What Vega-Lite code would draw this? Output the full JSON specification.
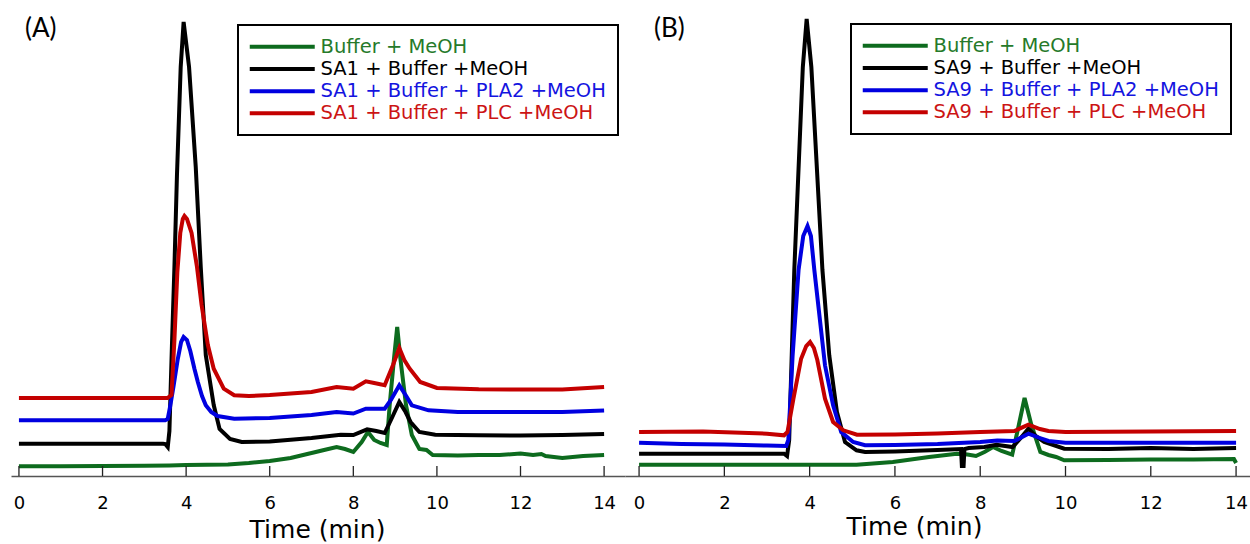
{
 "$schema": "https://vega.github.io/schema/vega-lite/v6.json",
 "padding": {"left": 10, "top": 10, "right": 0, "bottom": 0},
 "autosize": {"type": "pad"},
 "background": "white",
 "spacing": 0,
 "bounds": "flush",
 "config": {"view": {"stroke": null}, "legend": {"strokeWidth": 2}},
 "resolve": {"scale": {"color": "independent", "x": "independent"}, "legend": {"color": "independent"}},
 "datasets": {
  "ticks": [{"t":0},{"t":2},{"t":4},{"t":6},{"t":8},{"t":10},{"t":12},{"t":14}],
  "A": [
   {"s":"Buffer + MeOH","t":0,"v":9.7},{"s":"Buffer + MeOH","t":1,"v":9.8},{"s":"Buffer + MeOH","t":2,"v":10},{"s":"Buffer + MeOH","t":3,"v":10.2},{"s":"Buffer + MeOH","t":3.6,"v":10.5},{"s":"Buffer + MeOH","t":4,"v":11},{"s":"Buffer + MeOH","t":5,"v":11.5},{"s":"Buffer + MeOH","t":5.5,"v":13},{"s":"Buffer + MeOH","t":6,"v":15},{"s":"Buffer + MeOH","t":6.5,"v":18},{"s":"Buffer + MeOH","t":7,"v":23},{"s":"Buffer + MeOH","t":7.3,"v":26},{"s":"Buffer + MeOH","t":7.6,"v":29},{"s":"Buffer + MeOH","t":7.8,"v":27},{"s":"Buffer + MeOH","t":8.0,"v":24},{"s":"Buffer + MeOH","t":8.2,"v":34},{"s":"Buffer + MeOH","t":8.35,"v":44},{"s":"Buffer + MeOH","t":8.5,"v":36},{"s":"Buffer + MeOH","t":8.65,"v":33},{"s":"Buffer + MeOH","t":8.8,"v":31},{"s":"Buffer + MeOH","t":8.87,"v":71},{"s":"Buffer + MeOH","t":8.97,"v":116},{"s":"Buffer + MeOH","t":9.05,"v":149},{"s":"Buffer + MeOH","t":9.13,"v":116},{"s":"Buffer + MeOH","t":9.26,"v":71},{"s":"Buffer + MeOH","t":9.4,"v":41},{"s":"Buffer + MeOH","t":9.58,"v":27},{"s":"Buffer + MeOH","t":9.75,"v":26},{"s":"Buffer + MeOH","t":9.9,"v":21},{"s":"Buffer + MeOH","t":10.5,"v":20.5},{"s":"Buffer + MeOH","t":11,"v":21},{"s":"Buffer + MeOH","t":11.5,"v":21},{"s":"Buffer + MeOH","t":12,"v":22.5},{"s":"Buffer + MeOH","t":12.3,"v":21},{"s":"Buffer + MeOH","t":12.5,"v":22},{"s":"Buffer + MeOH","t":12.6,"v":20},{"s":"Buffer + MeOH","t":13,"v":18},{"s":"Buffer + MeOH","t":13.5,"v":20},{"s":"Buffer + MeOH","t":14,"v":21},
   {"s":"SA1 + Buffer +MeOH","t":0,"v":32.3},{"s":"SA1 + Buffer +MeOH","t":1,"v":32.3},{"s":"SA1 + Buffer +MeOH","t":2,"v":32.3},{"s":"SA1 + Buffer +MeOH","t":3,"v":32.3},{"s":"SA1 + Buffer +MeOH","t":3.45,"v":32.3},{"s":"SA1 + Buffer +MeOH","t":3.5,"v":32},{"s":"SA1 + Buffer +MeOH","t":3.56,"v":29},{"s":"SA1 + Buffer +MeOH","t":3.6,"v":45},{"s":"SA1 + Buffer +MeOH","t":3.66,"v":130},{"s":"SA1 + Buffer +MeOH","t":3.72,"v":209},{"s":"SA1 + Buffer +MeOH","t":3.78,"v":300},{"s":"SA1 + Buffer +MeOH","t":3.87,"v":409},{"s":"SA1 + Buffer +MeOH","t":3.94,"v":454},{"s":"SA1 + Buffer +MeOH","t":4.07,"v":409},{"s":"SA1 + Buffer +MeOH","t":4.23,"v":309},{"s":"SA1 + Buffer +MeOH","t":4.35,"v":209},{"s":"SA1 + Buffer +MeOH","t":4.47,"v":121},{"s":"SA1 + Buffer +MeOH","t":4.66,"v":71},{"s":"SA1 + Buffer +MeOH","t":4.8,"v":47},{"s":"SA1 + Buffer +MeOH","t":5.05,"v":37},{"s":"SA1 + Buffer +MeOH","t":5.33,"v":34},{"s":"SA1 + Buffer +MeOH","t":6,"v":34.5},{"s":"SA1 + Buffer +MeOH","t":7,"v":38},{"s":"SA1 + Buffer +MeOH","t":7.7,"v":41.3},{"s":"SA1 + Buffer +MeOH","t":8.0,"v":41},{"s":"SA1 + Buffer +MeOH","t":8.33,"v":46.7},{"s":"SA1 + Buffer +MeOH","t":8.55,"v":45},{"s":"SA1 + Buffer +MeOH","t":8.75,"v":43},{"s":"SA1 + Buffer +MeOH","t":8.9,"v":56},{"s":"SA1 + Buffer +MeOH","t":9.1,"v":74},{"s":"SA1 + Buffer +MeOH","t":9.25,"v":64},{"s":"SA1 + Buffer +MeOH","t":9.37,"v":54},{"s":"SA1 + Buffer +MeOH","t":9.58,"v":44},{"s":"SA1 + Buffer +MeOH","t":9.96,"v":41.3},{"s":"SA1 + Buffer +MeOH","t":11,"v":40.7},{"s":"SA1 + Buffer +MeOH","t":12,"v":40.5},{"s":"SA1 + Buffer +MeOH","t":13,"v":41},{"s":"SA1 + Buffer +MeOH","t":14,"v":42},
   {"s":"SA1 + Buffer + PLA2 +MeOH","t":0,"v":55.7},{"s":"SA1 + Buffer + PLA2 +MeOH","t":1,"v":55.7},{"s":"SA1 + Buffer + PLA2 +MeOH","t":2,"v":55.7},{"s":"SA1 + Buffer + PLA2 +MeOH","t":3,"v":55.7},{"s":"SA1 + Buffer + PLA2 +MeOH","t":3.5,"v":55.7},{"s":"SA1 + Buffer + PLA2 +MeOH","t":3.56,"v":57},{"s":"SA1 + Buffer + PLA2 +MeOH","t":3.62,"v":70},{"s":"SA1 + Buffer + PLA2 +MeOH","t":3.7,"v":90},{"s":"SA1 + Buffer + PLA2 +MeOH","t":3.8,"v":117},{"s":"SA1 + Buffer + PLA2 +MeOH","t":3.88,"v":134},{"s":"SA1 + Buffer + PLA2 +MeOH","t":3.94,"v":139},{"s":"SA1 + Buffer + PLA2 +MeOH","t":4.02,"v":136},{"s":"SA1 + Buffer + PLA2 +MeOH","t":4.1,"v":125},{"s":"SA1 + Buffer + PLA2 +MeOH","t":4.2,"v":107},{"s":"SA1 + Buffer + PLA2 +MeOH","t":4.28,"v":94},{"s":"SA1 + Buffer + PLA2 +MeOH","t":4.38,"v":80},{"s":"SA1 + Buffer + PLA2 +MeOH","t":4.47,"v":70.7},{"s":"SA1 + Buffer + PLA2 +MeOH","t":4.6,"v":64},{"s":"SA1 + Buffer + PLA2 +MeOH","t":4.75,"v":60},{"s":"SA1 + Buffer + PLA2 +MeOH","t":5.15,"v":57.3},{"s":"SA1 + Buffer + PLA2 +MeOH","t":6,"v":58},{"s":"SA1 + Buffer + PLA2 +MeOH","t":7,"v":61},{"s":"SA1 + Buffer + PLA2 +MeOH","t":7.6,"v":64},{"s":"SA1 + Buffer + PLA2 +MeOH","t":8.0,"v":62.5},{"s":"SA1 + Buffer + PLA2 +MeOH","t":8.3,"v":67.3},{"s":"SA1 + Buffer + PLA2 +MeOH","t":8.75,"v":67.3},{"s":"SA1 + Buffer + PLA2 +MeOH","t":8.9,"v":76},{"s":"SA1 + Buffer + PLA2 +MeOH","t":9.1,"v":90.7},{"s":"SA1 + Buffer + PLA2 +MeOH","t":9.25,"v":81},{"s":"SA1 + Buffer + PLA2 +MeOH","t":9.4,"v":70.7},{"s":"SA1 + Buffer + PLA2 +MeOH","t":9.8,"v":65.7},{"s":"SA1 + Buffer + PLA2 +MeOH","t":10.5,"v":64},{"s":"SA1 + Buffer + PLA2 +MeOH","t":12,"v":64},{"s":"SA1 + Buffer + PLA2 +MeOH","t":13,"v":64},{"s":"SA1 + Buffer + PLA2 +MeOH","t":14,"v":65.5},
   {"s":"SA1 + Buffer + PLC +MeOH","t":0,"v":78},{"s":"SA1 + Buffer + PLC +MeOH","t":1,"v":78},{"s":"SA1 + Buffer + PLC +MeOH","t":2,"v":78},{"s":"SA1 + Buffer + PLC +MeOH","t":3,"v":78},{"s":"SA1 + Buffer + PLC +MeOH","t":3.55,"v":78},{"s":"SA1 + Buffer + PLC +MeOH","t":3.65,"v":81},{"s":"SA1 + Buffer + PLC +MeOH","t":3.72,"v":136},{"s":"SA1 + Buffer + PLC +MeOH","t":3.79,"v":204},{"s":"SA1 + Buffer + PLC +MeOH","t":3.86,"v":243},{"s":"SA1 + Buffer + PLC +MeOH","t":3.92,"v":257},{"s":"SA1 + Buffer + PLC +MeOH","t":3.96,"v":260},{"s":"SA1 + Buffer + PLC +MeOH","t":4.02,"v":257},{"s":"SA1 + Buffer + PLC +MeOH","t":4.13,"v":243},{"s":"SA1 + Buffer + PLC +MeOH","t":4.26,"v":209},{"s":"SA1 + Buffer + PLC +MeOH","t":4.37,"v":171},{"s":"SA1 + Buffer + PLC +MeOH","t":4.52,"v":131},{"s":"SA1 + Buffer + PLC +MeOH","t":4.66,"v":107.3},{"s":"SA1 + Buffer + PLC +MeOH","t":4.9,"v":87.3},{"s":"SA1 + Buffer + PLC +MeOH","t":5.15,"v":80.7},{"s":"SA1 + Buffer + PLC +MeOH","t":5.5,"v":80},{"s":"SA1 + Buffer + PLC +MeOH","t":6,"v":81},{"s":"SA1 + Buffer + PLC +MeOH","t":7,"v":84},{"s":"SA1 + Buffer + PLC +MeOH","t":7.6,"v":89},{"s":"SA1 + Buffer + PLC +MeOH","t":8.0,"v":87.3},{"s":"SA1 + Buffer + PLC +MeOH","t":8.3,"v":94.7},{"s":"SA1 + Buffer + PLC +MeOH","t":8.5,"v":93},{"s":"SA1 + Buffer + PLC +MeOH","t":8.75,"v":90.7},{"s":"SA1 + Buffer + PLC +MeOH","t":8.95,"v":111},{"s":"SA1 + Buffer + PLC +MeOH","t":9.1,"v":128},{"s":"SA1 + Buffer + PLC +MeOH","t":9.22,"v":116},{"s":"SA1 + Buffer + PLC +MeOH","t":9.35,"v":107.3},{"s":"SA1 + Buffer + PLC +MeOH","t":9.6,"v":94},{"s":"SA1 + Buffer + PLC +MeOH","t":10,"v":88},{"s":"SA1 + Buffer + PLC +MeOH","t":11,"v":86.7},{"s":"SA1 + Buffer + PLC +MeOH","t":12,"v":86.5},{"s":"SA1 + Buffer + PLC +MeOH","t":13,"v":86.5},{"s":"SA1 + Buffer + PLC +MeOH","t":14,"v":89}
  ],
  "B": [
   {"s":"Buffer + MeOH","t":0,"v":11.3},{"s":"Buffer + MeOH","t":2,"v":11.3},{"s":"Buffer + MeOH","t":4,"v":11.3},{"s":"Buffer + MeOH","t":5.1,"v":11.3},{"s":"Buffer + MeOH","t":5.95,"v":14},{"s":"Buffer + MeOH","t":6.8,"v":19},{"s":"Buffer + MeOH","t":7.45,"v":22.3},{"s":"Buffer + MeOH","t":7.7,"v":21.5},{"s":"Buffer + MeOH","t":7.9,"v":20},{"s":"Buffer + MeOH","t":8.1,"v":24},{"s":"Buffer + MeOH","t":8.3,"v":29},{"s":"Buffer + MeOH","t":8.5,"v":25},{"s":"Buffer + MeOH","t":8.75,"v":21.3},{"s":"Buffer + MeOH","t":8.88,"v":46},{"s":"Buffer + MeOH","t":9.04,"v":78},{"s":"Buffer + MeOH","t":9.2,"v":51},{"s":"Buffer + MeOH","t":9.41,"v":24},{"s":"Buffer + MeOH","t":9.6,"v":21},{"s":"Buffer + MeOH","t":9.78,"v":19},{"s":"Buffer + MeOH","t":9.97,"v":15.7},{"s":"Buffer + MeOH","t":11,"v":16},{"s":"Buffer + MeOH","t":12,"v":16.5},{"s":"Buffer + MeOH","t":13,"v":16.5},{"s":"Buffer + MeOH","t":13.95,"v":17},{"s":"Buffer + MeOH","t":14,"v":13},
   {"s":"SA9 + Buffer +MeOH","t":0,"v":22.3},{"s":"SA9 + Buffer +MeOH","t":1,"v":22.3},{"s":"SA9 + Buffer +MeOH","t":2,"v":22.3},{"s":"SA9 + Buffer +MeOH","t":3,"v":22.3},{"s":"SA9 + Buffer +MeOH","t":3.4,"v":22.3},{"s":"SA9 + Buffer +MeOH","t":3.47,"v":20},{"s":"SA9 + Buffer +MeOH","t":3.52,"v":36},{"s":"SA9 + Buffer +MeOH","t":3.64,"v":206},{"s":"SA9 + Buffer +MeOH","t":3.84,"v":409},{"s":"SA9 + Buffer +MeOH","t":3.93,"v":457},{"s":"SA9 + Buffer +MeOH","t":4.04,"v":409},{"s":"SA9 + Buffer +MeOH","t":4.3,"v":206},{"s":"SA9 + Buffer +MeOH","t":4.46,"v":120.7},{"s":"SA9 + Buffer +MeOH","t":4.64,"v":64},{"s":"SA9 + Buffer +MeOH","t":4.83,"v":34},{"s":"SA9 + Buffer +MeOH","t":5.1,"v":25.7},{"s":"SA9 + Buffer +MeOH","t":5.3,"v":24},{"s":"SA9 + Buffer +MeOH","t":6,"v":24.5},{"s":"SA9 + Buffer +MeOH","t":7,"v":26},{"s":"SA9 + Buffer +MeOH","t":7.55,"v":27},{"s":"SA9 + Buffer +MeOH","t":7.57,"v":10},{"s":"SA9 + Buffer +MeOH","t":7.61,"v":10},{"s":"SA9 + Buffer +MeOH","t":7.63,"v":27},{"s":"SA9 + Buffer +MeOH","t":7.73,"v":28},{"s":"SA9 + Buffer +MeOH","t":8.1,"v":29},{"s":"SA9 + Buffer +MeOH","t":8.38,"v":31.3},{"s":"SA9 + Buffer +MeOH","t":8.76,"v":29},{"s":"SA9 + Buffer +MeOH","t":8.95,"v":38},{"s":"SA9 + Buffer +MeOH","t":9.13,"v":47.3},{"s":"SA9 + Buffer +MeOH","t":9.3,"v":40},{"s":"SA9 + Buffer +MeOH","t":9.5,"v":34},{"s":"SA9 + Buffer +MeOH","t":9.97,"v":27.3},{"s":"SA9 + Buffer +MeOH","t":11,"v":27},{"s":"SA9 + Buffer +MeOH","t":12,"v":28},{"s":"SA9 + Buffer +MeOH","t":13,"v":27},{"s":"SA9 + Buffer +MeOH","t":14,"v":28},
   {"s":"SA9 + Buffer + PLA2 +MeOH","t":0,"v":33.3},{"s":"SA9 + Buffer + PLA2 +MeOH","t":1,"v":32},{"s":"SA9 + Buffer + PLA2 +MeOH","t":2,"v":31.5},{"s":"SA9 + Buffer + PLA2 +MeOH","t":3,"v":30.5},{"s":"SA9 + Buffer + PLA2 +MeOH","t":3.45,"v":30},{"s":"SA9 + Buffer + PLA2 +MeOH","t":3.5,"v":36},{"s":"SA9 + Buffer + PLA2 +MeOH","t":3.6,"v":120},{"s":"SA9 + Buffer + PLA2 +MeOH","t":3.74,"v":206},{"s":"SA9 + Buffer + PLA2 +MeOH","t":3.85,"v":240},{"s":"SA9 + Buffer + PLA2 +MeOH","t":3.95,"v":250},{"s":"SA9 + Buffer + PLA2 +MeOH","t":4.03,"v":240},{"s":"SA9 + Buffer + PLA2 +MeOH","t":4.11,"v":206},{"s":"SA9 + Buffer + PLA2 +MeOH","t":4.36,"v":110.7},{"s":"SA9 + Buffer + PLA2 +MeOH","t":4.55,"v":70.7},{"s":"SA9 + Buffer + PLA2 +MeOH","t":4.74,"v":44},{"s":"SA9 + Buffer + PLA2 +MeOH","t":5.02,"v":34},{"s":"SA9 + Buffer + PLA2 +MeOH","t":5.3,"v":30.7},{"s":"SA9 + Buffer + PLA2 +MeOH","t":6,"v":31},{"s":"SA9 + Buffer + PLA2 +MeOH","t":7,"v":32},{"s":"SA9 + Buffer + PLA2 +MeOH","t":8,"v":34},{"s":"SA9 + Buffer + PLA2 +MeOH","t":8.4,"v":35.5},{"s":"SA9 + Buffer + PLA2 +MeOH","t":8.8,"v":35},{"s":"SA9 + Buffer + PLA2 +MeOH","t":9.13,"v":42.3},{"s":"SA9 + Buffer + PLA2 +MeOH","t":9.4,"v":38},{"s":"SA9 + Buffer + PLA2 +MeOH","t":9.6,"v":35},{"s":"SA9 + Buffer + PLA2 +MeOH","t":10,"v":33.3},{"s":"SA9 + Buffer + PLA2 +MeOH","t":12,"v":33.3},{"s":"SA9 + Buffer + PLA2 +MeOH","t":14,"v":33.3},
   {"s":"SA9 + Buffer + PLC +MeOH","t":0,"v":44},{"s":"SA9 + Buffer + PLC +MeOH","t":1.5,"v":44.5},{"s":"SA9 + Buffer + PLC +MeOH","t":3,"v":42.3},{"s":"SA9 + Buffer + PLC +MeOH","t":3.4,"v":40.7},{"s":"SA9 + Buffer + PLC +MeOH","t":3.48,"v":44},{"s":"SA9 + Buffer + PLC +MeOH","t":3.62,"v":77.3},{"s":"SA9 + Buffer + PLC +MeOH","t":3.8,"v":117.3},{"s":"SA9 + Buffer + PLC +MeOH","t":3.92,"v":130},{"s":"SA9 + Buffer + PLC +MeOH","t":4.01,"v":134},{"s":"SA9 + Buffer + PLC +MeOH","t":4.1,"v":128},{"s":"SA9 + Buffer + PLC +MeOH","t":4.18,"v":116},{"s":"SA9 + Buffer + PLC +MeOH","t":4.36,"v":77.3},{"s":"SA9 + Buffer + PLC +MeOH","t":4.55,"v":54},{"s":"SA9 + Buffer + PLC +MeOH","t":4.79,"v":45.7},{"s":"SA9 + Buffer + PLC +MeOH","t":5.11,"v":41.3},{"s":"SA9 + Buffer + PLC +MeOH","t":6,"v":41.5},{"s":"SA9 + Buffer + PLC +MeOH","t":7,"v":42.5},{"s":"SA9 + Buffer + PLC +MeOH","t":8,"v":44},{"s":"SA9 + Buffer + PLC +MeOH","t":8.8,"v":45},{"s":"SA9 + Buffer + PLC +MeOH","t":9.13,"v":51.3},{"s":"SA9 + Buffer + PLC +MeOH","t":9.4,"v":47},{"s":"SA9 + Buffer + PLC +MeOH","t":9.6,"v":45},{"s":"SA9 + Buffer + PLC +MeOH","t":10,"v":44},{"s":"SA9 + Buffer + PLC +MeOH","t":12,"v":44.5},{"s":"SA9 + Buffer + PLC +MeOH","t":14,"v":45}
  ]
 },
 "hconcat": [
  {
   "width": 614, "height": 466,
   "title": {"text": "(A)", "anchor": "start", "frame": "group", "offset": -32, "dx": 14, "fontSize": 26, "font": "Lato", "fontWeight": "normal", "color": "black"},
   "layer": [
    {
     "data": {"name": "A"},
     "mark": {"type": "line", "strokeWidth": 4},
     "encoding": {
      "x": {"field": "t", "type": "quantitative", "scale": {"domain": [-0.19, 14.5], "nice": false, "zero": false},
       "axis": {"values": [0,2,4,6,8,10,12,14], "format": "d", "grid": false, "ticks": false, "domainColor": "#555", "domainWidth": 1.3, "labelFont": "DejaVu Sans", "labelFontSize": 18, "labelColor": "black", "labelBaseline": "middle", "labelPadding": 27, "labelFlush": false, "labelOverlap": false, "title": "Time (min)", "titleFont": "DejaVu Sans", "titleFontSize": 25, "titleFontWeight": "normal", "titleColor": "black", "titleX": 306, "titleY": 61, "titleAlign": "center", "titleBaseline": "alphabetic"}},
      "y": {"field": "v", "type": "quantitative", "scale": {"domain": [0, 466], "nice": false}, "axis": null},
      "color": {"field": "s", "type": "nominal",
       "scale": {"domain": ["Buffer + MeOH", "SA1 + Buffer +MeOH", "SA1 + Buffer + PLA2 +MeOH", "SA1 + Buffer + PLC +MeOH"], "range": ["#0d6b1e", "#000000", "#0000e0", "#c40000"]},
       "legend": {"title": null, "orient": "none", "legendX": 227, "legendY": 15, "direction": "vertical", "symbolType": "M-10,0H55", "symbolSize": 4, "symbolStrokeWidth": 4, "symbolFillColor": "transparent", "labelFont": "DejaVu Sans", "labelFontSize": 19.5, "labelLimit": 500, "labelOffset": 51, "rowPadding": 1.2, "padding": 12, "strokeColor": "black", "fillColor": "white",
        "labelColor": {"expr": "indexof(datum.label,'PLA2')>=0 ? '#1414e0' : indexof(datum.label,'PLC')>=0 ? '#cc1414' : indexof(datum.label,'SA')>=0 ? '#000000' : '#267a2a'"}}}
     }
    },
    {
     "data": {"name": "ticks"},
     "mark": {"type": "rule", "color": "#222", "strokeWidth": 1.3},
     "encoding": {
      "x": {"field": "t", "type": "quantitative"},
      "y": {"datum": 0, "type": "quantitative", "axis": null},
      "y2": {"datum": 10}
     }
    }
   ]
  },
  {
   "width": 626, "height": 466,
   "title": {"text": "(B)", "anchor": "start", "frame": "group", "offset": -32, "dx": 29, "fontSize": 26, "font": "Lato", "fontWeight": "normal", "color": "black"},
   "layer": [
    {
     "data": {"name": "B"},
     "mark": {"type": "line", "strokeWidth": 4},
     "encoding": {
      "x": {"field": "t", "type": "quantitative", "scale": {"domain": [-0.33, 14.35], "nice": false, "zero": false},
       "axis": {"values": [0,2,4,6,8,10,12,14], "format": "d", "grid": false, "ticks": false, "domainColor": "#555", "domainWidth": 1.3, "labelFont": "DejaVu Sans", "labelFontSize": 18, "labelColor": "black", "labelBaseline": "middle", "labelPadding": 27, "labelFlush": false, "labelOverlap": false, "title": "Time (min)", "titleFont": "DejaVu Sans", "titleFontSize": 25, "titleFontWeight": "normal", "titleColor": "black", "titleX": 289, "titleY": 58, "titleAlign": "center", "titleBaseline": "alphabetic"}},
      "y": {"field": "v", "type": "quantitative", "scale": {"domain": [0, 466], "nice": false}, "axis": null},
      "color": {"field": "s", "type": "nominal",
       "scale": {"domain": ["Buffer + MeOH", "SA9 + Buffer +MeOH", "SA9 + Buffer + PLA2 +MeOH", "SA9 + Buffer + PLC +MeOH"], "range": ["#0d6b1e", "#000000", "#0000e0", "#c40000"]},
       "legend": {"title": null, "orient": "none", "legendX": 226, "legendY": 14, "direction": "vertical", "symbolType": "M-10,0H55", "symbolSize": 4, "symbolStrokeWidth": 4, "symbolFillColor": "transparent", "labelFont": "DejaVu Sans", "labelFontSize": 19.5, "labelLimit": 500, "labelOffset": 51, "rowPadding": 1.2, "padding": 12, "strokeColor": "black", "fillColor": "white",
        "labelColor": {"expr": "indexof(datum.label,'PLA2')>=0 ? '#1414e0' : indexof(datum.label,'PLC')>=0 ? '#cc1414' : indexof(datum.label,'SA')>=0 ? '#000000' : '#267a2a'"}}}
     }
    },
    {
     "data": {"name": "ticks"},
     "mark": {"type": "rule", "color": "#222", "strokeWidth": 1.3},
     "encoding": {
      "x": {"field": "t", "type": "quantitative"},
      "y": {"datum": 0, "type": "quantitative", "axis": null},
      "y2": {"datum": 10}
     }
    }
   ]
  }
 ]
}
